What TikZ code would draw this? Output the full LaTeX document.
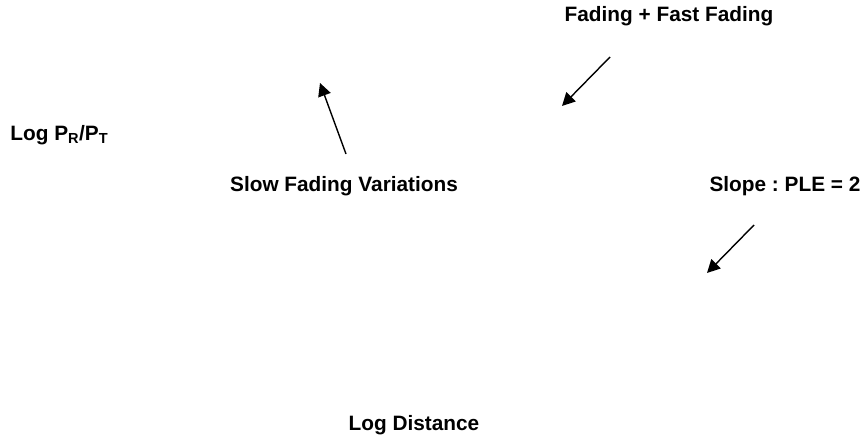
\documentclass[tikz,border=0pt]{standalone}
\usepackage{fontspec}
\setmainfont{Liberation Sans}
\usetikzlibrary{arrows.meta}
\begin{document}
\frenchspacing
\begin{tikzpicture}[x=1pt, y=-1pt, thick,
                    label node/.style={font=\fontsize{20.8}{25}\selectfont\bfseries, inner sep=0pt},
                    pointer/.style={line width=1.4pt, -{Triangle[length=13pt,width=13pt]}}]
  \useasboundingbox (0,0) rectangle (866,441);
  \node[label node] (fast) at (669,16) {Fading + Fast Fading};
  \node[label node, anchor=west] (power) at (10,135) {Log P\textsubscript{R}/P\textsubscript{T}};
  \node[label node] (slow) at (344,186) {Slow Fading Variations};
  \node[label node] (slope) at (785,186) {Slope : PLE = 2};
  \node[label node] (dist) at (414,425) {Log Distance};

  \coordinate (fast tail) at (610,57);
  \coordinate (fast tip) at (562,106);
  \coordinate (slow tail) at (346,154);
  \coordinate (slow tip) at (320,83);
  \coordinate (slope tail) at (754,225);
  \coordinate (slope tip) at (707,273);

  \draw[pointer] (fast tail) -- (fast tip);
  \draw[pointer] (slow tail) -- (slow tip);
  \draw[pointer] (slope tail) -- (slope tip);
\end{tikzpicture}
\end{document}
